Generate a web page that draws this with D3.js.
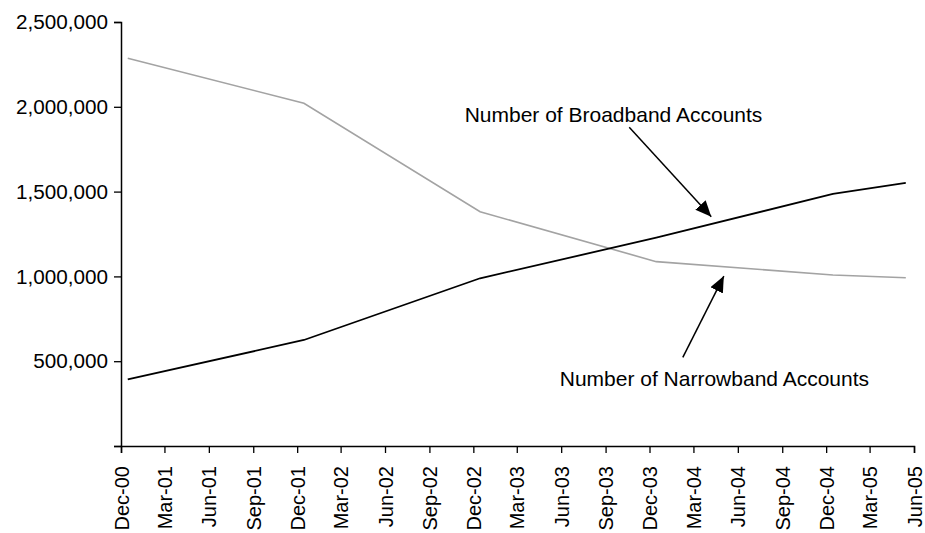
<!doctype html>
<html>
<head>
<meta charset="utf-8">
<title>Broadband vs Narrowband</title>
<script src="https://d3js.org/d3.v7.min.js"></script>
<style>
  body { margin: 0; background: #fff; }
  text { font-family: "Liberation Sans", Arial, Helvetica, sans-serif; }
</style>
</head>
<body>
<script>
// data
var dates = ["2000-12-15", "2001-12-15", "2002-12-15", "2003-12-15", "2004-12-15", "2005-05-15"];
var broadband = [393000, 625000, 989000, 1228000, 1486000, 1552000];
var narrowband = [2286000, 2021000, 1381000, 1087000, 1008000, 992000];

var tickDates = ["2000-12-01", "2001-03-01", "2001-06-01", "2001-09-01", "2001-12-01",
                 "2002-03-01", "2002-06-01", "2002-09-01", "2002-12-01", "2003-03-01",
                 "2003-06-01", "2003-09-01", "2003-12-01", "2004-03-01", "2004-06-01",
                 "2004-09-01", "2004-12-01", "2005-03-01", "2005-06-01"];
var tickLabels = ["Dec-00", "Mar-01", "Jun-01", "Sep-01", "Dec-01", "Mar-02", "Jun-02",
                  "Sep-02", "Dec-02", "Mar-03", "Jun-03", "Sep-03", "Dec-03", "Mar-04",
                  "Jun-04", "Sep-04", "Dec-04", "Mar-05", "Jun-05"];
var yTicks = [0, 500000, 1000000, 1500000, 2000000, 2500000];

// annotations: label anchor, arrow tail and arrow tip in data terms
var notes = [
  { text: "Number of Broadband Accounts", label: ["2002-11-13", 1910000],
    tail: ["2003-10-20", 1880000], tip: ["2004-04-07", 1352000] },
  { text: "Number of Narrowband Accounts", label: ["2003-05-29", 354000],
    tail: ["2004-02-08", 523000], tip: ["2004-05-03", 1002000] }
];

var chartW = 925, chartH = 533;
var plotLeft = 121, plotRight = 914, plotTop = 22, plotBottom = 446;
var parse = d3.timeParse("%Y-%m-%d");

var svg = d3.select("body").append("svg")
  .attr("width", chartW)
  .attr("height", chartH);

var x = d3.scaleTime()
  .domain([parse(tickDates[0]), parse(tickDates[tickDates.length - 1])])
  .range([plotLeft, plotRight]);

var y = d3.scaleLinear()
  .domain([0, 2500000])
  .range([plotBottom, plotTop]);

// arrow head
svg.append("defs").append("marker")
  .attr("id", "head")
  .attr("markerUnits", "userSpaceOnUse")
  .attr("viewBox", "0 0 16 14")
  .attr("refX", 16).attr("refY", 7)
  .attr("markerWidth", 16).attr("markerHeight", 14)
  .attr("orient", "auto")
  .append("path")
  .attr("d", "M0,0 L16,7 L0,14 Z")
  .attr("fill", "#000");

// y axis
var yAxis = svg.append("g")
  .attr("transform", "translate(" + plotLeft + ",0)")
  .call(d3.axisLeft(y)
    .tickValues(yTicks)
    .tickSize(7)
    .tickPadding(6)
    .tickFormat(function (d) { return d === 0 ? "" : d3.format(",")(d); }));

// x axis
var xAxis = svg.append("g")
  .attr("transform", "translate(0," + plotBottom + ")")
  .call(d3.axisBottom(x)
    .tickValues(tickDates.map(parse))
    .tickSize(7)
    .tickFormat(function (d, i) { return tickLabels[i]; }));

xAxis.selectAll("text")
  .attr("transform", "rotate(-90)")
  .attr("text-anchor", "end")
  .attr("x", -20)
  .attr("y", 0)
  .attr("dy", "0.35em");

[yAxis, xAxis].forEach(function (ax) {
  ax.select(".domain").attr("stroke", "#000").attr("stroke-width", 1.5);
  ax.selectAll(".tick line").attr("stroke", "#000").attr("stroke-width", 1.3);
  ax.selectAll("text").attr("fill", "#000")
    .style("font-family", '"Liberation Sans", Arial, sans-serif');
});
yAxis.selectAll("text").attr("font-size", 20.7);
xAxis.selectAll("text").attr("font-size", 20);

var line = d3.line()
  .x(function (d) { return x(parse(d[0])); })
  .y(function (d) { return y(d[1]); });

svg.append("path")
  .datum(d3.zip(dates, narrowband))
  .attr("d", line)
  .attr("fill", "none")
  .attr("stroke", "#a3a3a3")
  .attr("stroke-width", 1.6);

svg.append("path")
  .datum(d3.zip(dates, broadband))
  .attr("d", line)
  .attr("fill", "none")
  .attr("stroke", "#000")
  .attr("stroke-width", 1.8);

// annotations
notes.forEach(function (n) {
  svg.append("line")
    .attr("x1", x(parse(n.tail[0]))).attr("y1", y(n.tail[1]))
    .attr("x2", x(parse(n.tip[0]))).attr("y2", y(n.tip[1]))
    .attr("stroke", "#000")
    .attr("stroke-width", 1.5)
    .attr("marker-end", "url(#head)");

  svg.append("text")
    .attr("x", x(parse(n.label[0])))
    .attr("y", y(n.label[1]))
    .attr("font-size", 21)
    .attr("fill", "#000")
    .text(n.text);
});
</script>
</body>
</html>
